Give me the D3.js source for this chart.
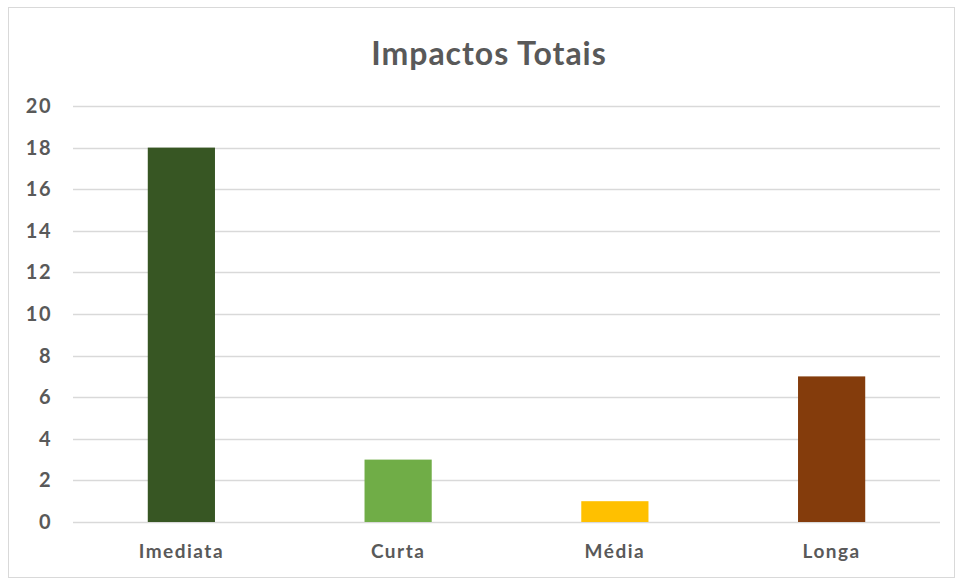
<!DOCTYPE html>
<html>
<head>
<meta charset="utf-8">
<script src="https://cdn.jsdelivr.net/npm/d3@7"></script>
<style>
  html, body { margin: 0; padding: 0; background: #fff; }
  svg { display: block; }
  text { font-family: Lato, "Open Sans", sans-serif; }
</style>
</head>
<body>
<svg id="chart" width="958" height="581"></svg>
<script>
// Chart data
const title = "Impactos Totais";
const categories = ["Imediata", "Curta", "Média", "Longa"];
const values = [18, 3, 1, 7];
const barColors = ["#375623", "#70AD47", "#FFC000", "#843C0C"];
const yTicks = [0, 2, 4, 6, 8, 10, 12, 14, 16, 18, 20];

const W = 958, H = 581;
const margin = { left: 73, right: 18, top: 106, bottom: 59 };
const svg = d3.select("#chart");

// outer frame
svg.append("rect")
  .attr("x", 8.5).attr("y", 7.5)
  .attr("width", W - 12).attr("height", H - 11)
  .attr("fill", "#fff").attr("stroke", "#d9d9d9").attr("stroke-width", 1);

const x = d3.scaleBand()
  .domain(categories)
  .range([margin.left, W - margin.right])
  .paddingInner(0.69)
  .paddingOuter(0.345);

const y = d3.scaleLinear()
  .domain([0, 20])
  .range([H - margin.bottom, margin.top]);

// gridlines
svg.append("g")
  .selectAll("line")
  .data(yTicks)
  .join("line")
  .attr("x1", margin.left).attr("x2", W - margin.right)
  .attr("y1", d => Math.round(y(d)) + 0.5).attr("y2", d => Math.round(y(d)) + 0.5)
  .attr("stroke", "#d9d9d9").attr("stroke-width", 1.5);

// y axis labels
const yAxis = d3.axisLeft(y).tickValues(yTicks).tickSize(0).tickPadding(21);
svg.append("g")
  .attr("transform", `translate(${margin.left},0)`)
  .call(yAxis)
  .call(g => g.select(".domain").remove())
  .call(g => g.selectAll("text")
    .attr("fill", "#595959")
    .attr("font-size", 20)
    .attr("font-weight", 700)
    .attr("letter-spacing", 1.5)
    .attr("font-family", "Lato, 'Open Sans', sans-serif"));

// bars
svg.append("g")
  .selectAll("rect")
  .data(categories)
  .join("rect")
  .attr("x", d => x(d))
  .attr("width", x.bandwidth())
  .attr("y", (d, i) => y(values[i]))
  .attr("height", (d, i) => y(0) - y(values[i]))
  .attr("fill", (d, i) => barColors[i]);

// x axis labels
const xAxis = d3.axisBottom(x).tickSize(0).tickPadding(23);
svg.append("g")
  .attr("transform", `translate(0,${H - margin.bottom})`)
  .call(xAxis)
  .call(g => g.select(".domain").remove())
  .call(g => g.selectAll("text")
    .attr("fill", "#595959")
    .attr("font-size", 19)
    .attr("font-weight", 700)
    .attr("letter-spacing", 1.5)
    .attr("font-family", "Lato, 'Open Sans', sans-serif"));

// title
svg.append("text")
  .attr("x", 489).attr("y", 65)
  .attr("text-anchor", "middle")
  .attr("fill", "#595959")
  .attr("font-size", 32)
  .attr("font-weight", 700)
  .attr("letter-spacing", 1)
  .text(title);
</script>
</body>
</html>
